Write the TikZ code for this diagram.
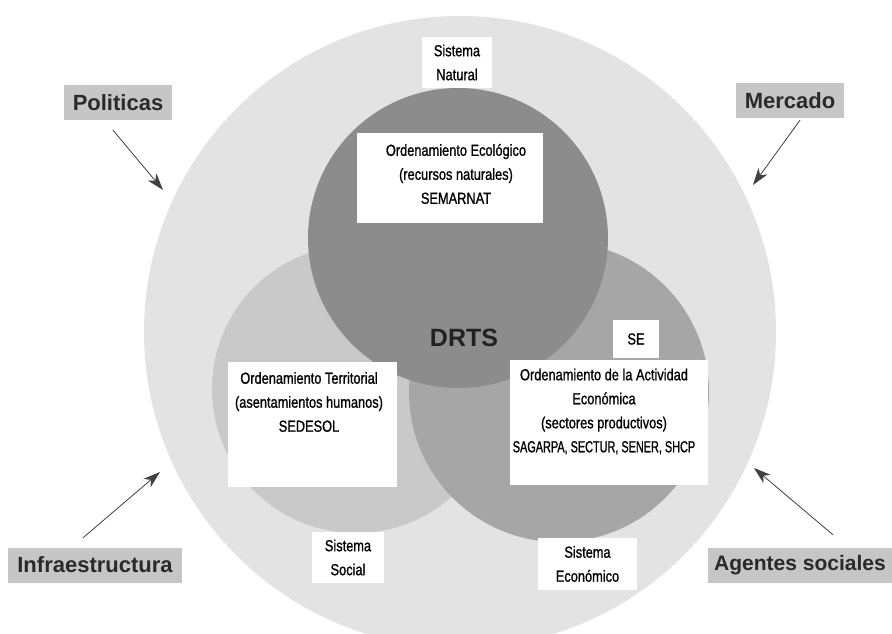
\documentclass[tikz,border=0pt]{standalone}
\usepackage{fontspec}
\setmainfont{Liberation Sans}
\newfontfamily\condf[FakeStretch=0.8,FakeBold=1]{Liberation Sans}
\newfontfamily\condn[FakeStretch=0.68,FakeBold=1]{Liberation Sans}
\usetikzlibrary{arrows.meta,calc}
\definecolor{outerc}{HTML}{E3E3E3}
\definecolor{leftc}{HTML}{C9C9C9}
\definecolor{rightc}{HTML}{A6A6A6}
\definecolor{topc}{HTML}{8C8C8C}
\definecolor{labc}{HTML}{C6C6C6}
\definecolor{labt}{HTML}{2A2A2A}
\definecolor{arrc}{HTML}{404040}
\definecolor{drtsc}{HTML}{222222}
\begin{document}
\begin{tikzpicture}[x=1pt,y=-1pt,
  wbox/.style={fill=white, draw=none, inner sep=0pt},
  wtext/.style={font=\condf\fontsize{16}{24}\selectfont, align=center, text=black, inner sep=0pt},
  lab/.style={fill=labc, text=labt, font=\bfseries\fontsize{22}{26}\selectfont, minimum height=35pt, inner xsep=9pt, inner ysep=0pt},
  arr/.style={draw=arrc, line width=0.8pt, -{Stealth[length=17pt,width=11pt,inset=5pt]}}]
\useasboundingbox (0,0) rectangle (892,634);
\fill[white] (0,0) rectangle (892,634);
% circles
\fill[outerc] (460,332) circle (316pt);
\fill[leftc] (356,389) circle (144pt);
\fill[rightc] (559,392) circle (150pt);
\fill[topc] (458,238) circle (150pt);
% center label
\node[font=\bfseries\fontsize{25}{30}\selectfont, text=drtsc, inner sep=0pt] (drts) at (464,338) {DRTS};
% white boxes
\node[wbox, wtext, minimum width=70pt, minimum height=51pt] (nat) at (457,62.5) {Sistema\\Natural};
\node[wbox, minimum width=186pt, minimum height=90pt] (ecobox) at (450,178) {};
\node[wtext] (eco) at (456,174) {Ordenamiento Ecológico\\(recursos naturales)\\SEMARNAT};
\node[wbox, minimum width=169pt, minimum height=125pt] (terbox) at (312.5,424.5) {};
\node[wtext] (ter) at (309,402) {Ordenamiento Territorial\\(asentamientos humanos)\\SEDESOL};
\node[wbox, wtext, minimum width=46pt, minimum height=38pt] (se) at (636,339) {SE};
\node[wbox, minimum width=198pt, minimum height=125pt] (actbox) at (609,422.5) {};
\node[wtext] (act) at (604,411.5) {Ordenamiento de la Actividad\\Económica\\(sectores productivos)\\{\condn SAGARPA, SECTUR, SENER, SHCP}};
\node[wbox, wtext, minimum width=72pt, minimum height=51pt] (soc) at (348,557.5) {Sistema\\Social};
\node[wbox, wtext, minimum width=99pt, minimum height=52pt] (ecn) at (587.5,564) {Sistema\\Económico};
% outside labels
\node[lab] (pol) at (118,102.5) {Politicas};
\node[lab] (mer) at (790,100.5) {Mercado};
\node[lab] (inf) at (95,565) {Infraestructura};
\node[lab, anchor=west, inner xsep=6pt, font=\bfseries\fontsize{21}{26}\selectfont] (age) at (708,565) {Agentes sociales};
% arrow tips
\coordinate (polT) at (163,190);
\coordinate (merT) at (753,185);
\coordinate (infT) at (160,472);
\coordinate (ageT) at (754,468);
\draw[arr] ([xshift=-5pt,yshift=-10pt]pol.south) -- (polT);
\draw[arr] ([xshift=10pt,yshift=-2pt]mer.south) -- (merT);
\draw[arr] ([xshift=-12pt,yshift=9.5pt]inf.north) -- (infT);
\draw[arr] ([xshift=33pt,yshift=12.5pt]age.north) -- (ageT);
\end{tikzpicture}
\end{document}
